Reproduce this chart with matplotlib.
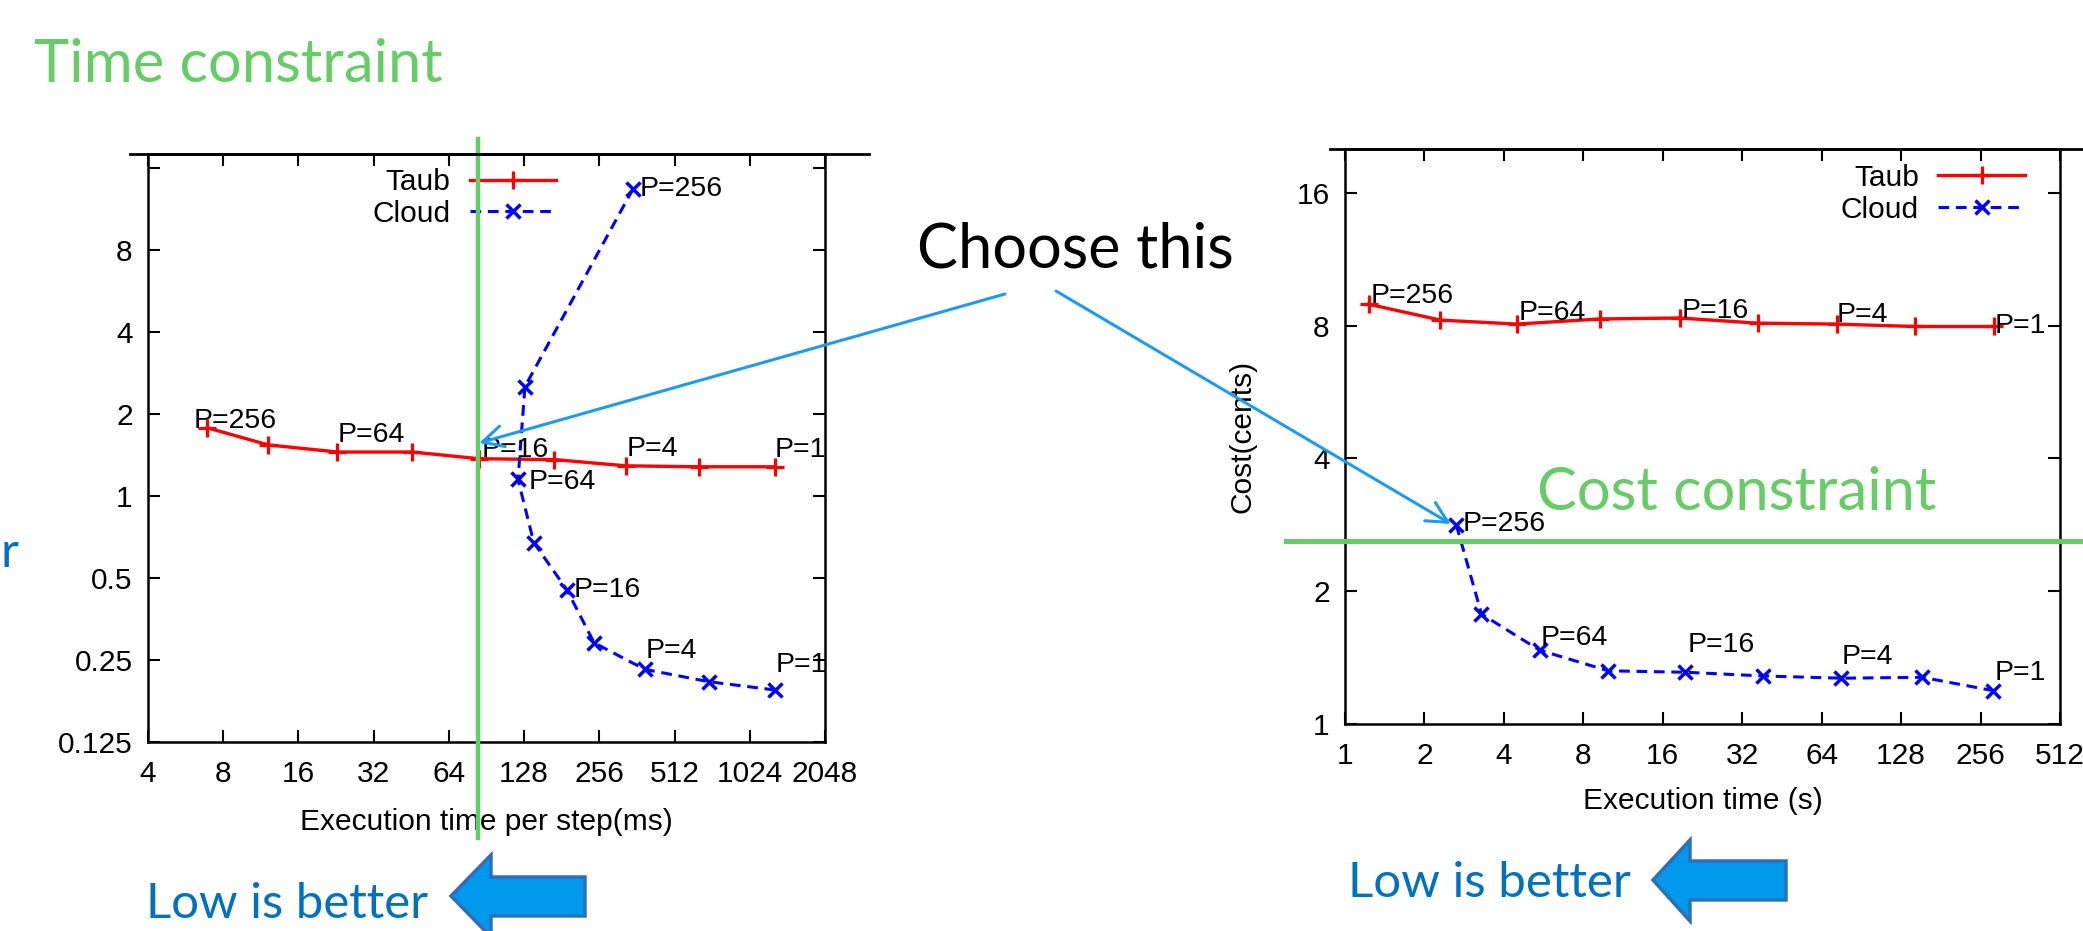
import matplotlib
matplotlib.use("Agg")
import matplotlib.pyplot as plt
from matplotlib.patches import Polygon
from matplotlib.lines import Line2D

# ---------------- data ----------------
p_labels = ["P=256", "P=64", "P=16", "P=4", "P=1"]
p_label_idx = [0, 2, 4, 6, 8]

# left chart: execution time per step (ms) vs cost
left_taub_time = [6.9, 12.1, 22.9, 45.6, 84.5, 169, 328, 642, 1293]
left_taub_cost = [1.78, 1.54, 1.45, 1.45, 1.37, 1.36, 1.29, 1.28, 1.28]
left_cloud_time = [349, 129, 121, 140, 190, 244, 389, 704, 1293]
left_cloud_cost = [13.4, 2.52, 1.15, 0.674, 0.452, 0.289, 0.231, 0.208, 0.194]
left_xticks = [4, 8, 16, 32, 64, 128, 256, 512, 1024, 2048]
left_yticks = [0.125, 0.25, 0.5, 1, 2, 4, 8, 16]
left_ytick_labels = ["0.125", "0.25", "0.5", "1", "2", "4", "8", ""]
time_constraint_ms = 83.5

# right chart: execution time (s) vs cost (cents)
right_taub_time = [1.23, 2.30, 4.49, 9.25, 18.6, 36.6, 73, 144, 289]
right_taub_cost = [8.94, 8.23, 8.06, 8.28, 8.32, 8.10, 8.06, 7.96, 7.96]
right_cloud_time = [2.64, 3.29, 5.46, 9.94, 19.5, 38.4, 75.8, 154, 286]
right_cloud_cost = [2.83, 1.775, 1.47, 1.32, 1.31, 1.285, 1.27, 1.276, 1.19]
right_xticks = [1, 2, 4, 8, 16, 32, 64, 128, 256, 512]
right_yticks = [1, 2, 4, 8, 16]
cost_constraint_cents = 2.60

# ---------------- styling / layout ----------------
W, H = 2083, 931
fig = plt.figure(figsize=(W / 100, H / 100), dpi=100)
fig.patch.set_facecolor("white")

CHART_FONT = "Liberation Sans"
SLIDE_FONT = "Lato"
GREEN = "#66CC66"
CALLOUT = "#1E9BEF"
TEXT_BLUE = "#0070C0"
PX = 72 / 100  # points per pixel


def fx(px):
    return px / W


def fy(py):
    return 1 - py / H


def make_axes(l, t, r, b):
    ax = fig.add_axes([fx(l), fy(b), fx(r) - fx(l), fy(t) - fy(b)])
    for s in ax.spines.values():
        s.set_linewidth(1.8)
    ax.set_xscale("log", base=2)
    ax.set_yscale("log", base=2)
    ax.minorticks_off()
    return ax


def style_ticks(ax, xpad, ypad):
    ax.tick_params(which="major", direction="in", top=True, right=True,
                   length=12 * PX, width=1.5, labelsize=21.5)
    ax.tick_params(axis="x", pad=xpad)
    ax.tick_params(axis="y", pad=ypad)
    for lab in ax.get_xticklabels() + ax.get_yticklabels():
        lab.set_family(CHART_FONT)


def plot_series(ax, tx, ty, cx, cy):
    h1, = ax.plot(tx, ty, color="red", lw=2.4, marker="+", ms=13, mew=2.3,
                  label="Taub", zorder=3)
    h2, = ax.plot(cx, cy, color="blue", lw=2.2, ls=(0, (3.5, 2.2)), marker="x",
                  ms=10, mew=2.5, label="Cloud", zorder=3)
    return h1, h2


def add_p_labels(ax, xs, ys, offsets):
    for lab, i, (dx, dy) in zip(p_labels, p_label_idx, offsets):
        ax.annotate(lab, xy=(xs[i], ys[i]), xytext=(dx * PX, dy * PX),
                    textcoords="offset points", ha="left", va="center",
                    fontsize=20.5, family=CHART_FONT, zorder=4)


def add_legend(ax, x, y):
    leg = ax.legend(loc="upper right", bbox_to_anchor=(x, y), frameon=False,
                    markerfirst=False, handlelength=2.9, handletextpad=0.65,
                    borderpad=0, borderaxespad=0, labelspacing=0.12, numpoints=1,
                    prop={"family": CHART_FONT, "size": 21.5})
    return leg


# ---------------- left chart ----------------
axL = make_axes(148, 154, 825, 742)
plot_series(axL, left_taub_time, left_taub_cost, left_cloud_time, left_cloud_cost)
axL.set_xlim(4, 2048)
axL.set_ylim(0.125, 18.0)
axL.set_xticks(left_xticks, [str(v) for v in left_xticks])
axL.set_yticks(left_yticks, left_ytick_labels)
style_ticks(axL, xpad=13, ypad=11)
add_p_labels(axL, left_taub_time, left_taub_cost,
             [(-14, 7), (0, 17), (3, 9), (0, 17), (0, 17)])
add_p_labels(axL, left_cloud_time, left_cloud_cost,
             [(7, 0), (11, -3), (7, 0), (1, 18), (1, 25)])
add_legend(axL, 0.603, 0.976)
axL.set_xlabel("Execution time per step(ms)", family=CHART_FONT, fontsize=21.5)
axL.xaxis.label.set_va("center")
axL.xaxis.set_label_coords(0.5, (742 - 822) / 588)
axL.axvline(time_constraint_ms, ymin=(742 - 838) / 588, ymax=(742 - 139) / 588,
            color=GREEN, lw=3.2, clip_on=False, zorder=6)

# ---------------- right chart ----------------
axR = make_axes(1345, 149, 2060, 724)
plot_series(axR, right_taub_time, right_taub_cost, right_cloud_time, right_cloud_cost)
axR.set_xlim(1, 512)
axR.set_ylim(1, 20.1)
axR.set_xticks(right_xticks, [str(v) for v in right_xticks])
axR.set_yticks(right_yticks, [str(v) for v in right_yticks])
style_ticks(axR, xpad=13, ypad=11)
add_p_labels(axR, right_taub_time, right_taub_cost,
             [(2, 8), (1, 11), (2, 7), (0, 9), (0, 0)])
add_p_labels(axR, right_cloud_time, right_cloud_cost,
             [(6, 1), (1, 12), (2, 27), (1, 21), (1, 18)])
add_legend(axR, 0.951, 0.974)
axR.set_xlabel("Execution time (s)", family=CHART_FONT, fontsize=21.5)
axR.xaxis.label.set_va("center")
axR.xaxis.set_label_coords(0.5, (724 - 801) / 575)
axR.set_ylabel("Cost(cents)", family=CHART_FONT, fontsize=21.5)
axR.yaxis.label.set_va("center")
axR.yaxis.set_label_coords((1243 - 1345) / 715, 0.5)
axR.axhline(cost_constraint_cents, xmin=(1286 - 1345) / 715, xmax=(2090 - 1345) / 715,
            color=GREEN, lw=3.6, clip_on=False, zorder=6)

# top border lines of the pasted chart images
fig.add_artist(Line2D([fx(130), fx(869)], [fy(154), fy(154)], transform=fig.transFigure,
                      color="black", lw=2.0))
fig.add_artist(Line2D([fx(1330), fx(2083)], [fy(149), fy(149)], transform=fig.transFigure,
                      color="black", lw=2.0))

# ---------------- slide annotations ----------------
renderer = fig.canvas.get_renderer()


def slide_text(s, x_px, base_px, width_px, color, ha="left", size=None):
    t = fig.text(fx(x_px), fy(base_px), s, fontsize=40, family=SLIDE_FONT,
                 color=color, ha=ha, va="baseline")
    if size is None:
        w = t.get_window_extent(renderer).width
        size = 40 * width_px / w
    t.set_fontsize(size)
    return size


slide_text("Time constraint", 34, 82, 408, GREEN)
slide_text("Choose this", 917, 267, 316, "black")
slide_text("Cost constraint", 1537, 510, 399, GREEN)
low_size = slide_text("Low is better", 146, 918, 282, TEXT_BLUE)
slide_text("Low is better", 1348, 897, 283, TEXT_BLUE)
# visible tail of a slide text cut by the left edge of the slide
slide_text("r", 1, 567, None, TEXT_BLUE, ha="left", size=low_size)

# callout arrows from "Choose this"
arrow_kw = dict(arrowstyle="->,head_length=0.75,head_width=0.38", color=CALLOUT,
                lw=2.2, shrinkA=0, shrinkB=0, mutation_scale=20)
axL.annotate("", xy=(84.5, 1.565), xycoords="data",
             xytext=(fx(1005), fy(294)), textcoords="figure fraction",
             arrowprops=arrow_kw, annotation_clip=False, zorder=7)
axR.annotate("", xy=(2.52, 2.84), xycoords="data",
             xytext=(fx(1056), fy(291)), textcoords="figure fraction",
             arrowprops=arrow_kw, annotation_clip=False, zorder=7)


# block arrows pointing left
def block_arrow(tip_x, tip_y, back_x, head_top, head_bot, shaft_top, shaft_bot, tail_x):
    pts = [(tip_x, tip_y), (back_x, head_top), (back_x, shaft_top), (tail_x, shaft_top),
           (tail_x, shaft_bot), (back_x, shaft_bot), (back_x, head_bot)]
    poly = Polygon([(fx(x), fy(y)) for x, y in pts], closed=True,
                   transform=fig.transFigure, facecolor="#0099EE",
                   edgecolor="#2E6FB7", lw=2.5, joinstyle="miter")
    fig.add_artist(poly)


block_arrow(451, 896, 491, 855, 937, 877, 916, 585)
block_arrow(1653, 880, 1690, 840, 921, 861, 900, 1786)

fig.savefig("out.png", dpi=100)
